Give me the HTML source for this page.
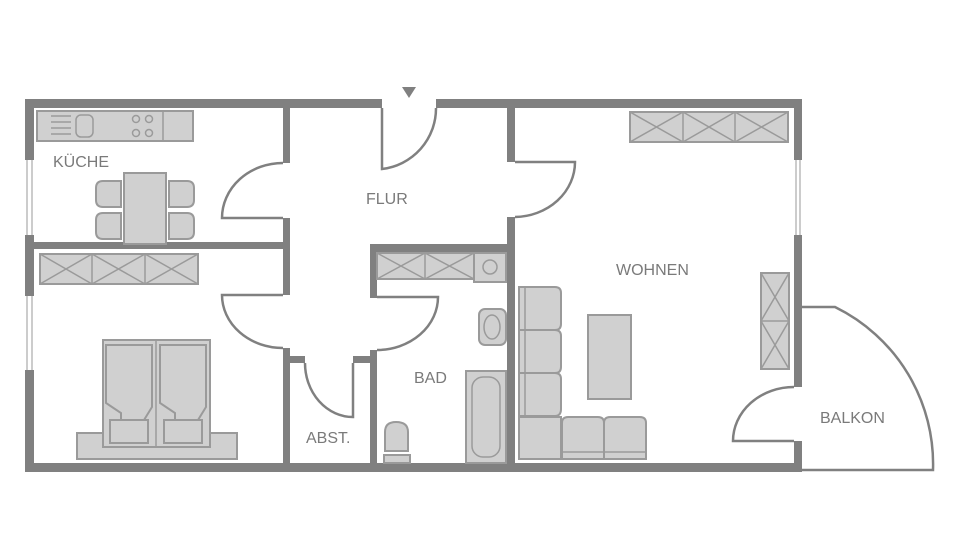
<!DOCTYPE html>
<html><head><meta charset="utf-8"><style>
html,body{margin:0;padding:0;background:#fff}
svg{display:block}
text{font-family:"Liberation Sans",sans-serif;font-size:16px;fill:#7a7a7a}
.f{fill:#d0d0d0;stroke:#9a9a9a;stroke-width:2}
.l{fill:none;stroke:#9a9a9a;stroke-width:1.5}
.d{fill:none;stroke:#808080;stroke-width:2.5}
.w{fill:#808080}
</style></head><body>
<svg width="960" height="560" viewBox="0 0 960 560">
<g class="w">
<rect x="25" y="99" width="357" height="9"/>
<rect x="436" y="99" width="366" height="9"/>
<rect x="25" y="99" width="9" height="61"/>
<rect x="25" y="235" width="9" height="61"/>
<rect x="25" y="370" width="9" height="102"/>
<rect x="25" y="463" width="777" height="9"/>
<rect x="794" y="99" width="8" height="61"/>
<rect x="794" y="235" width="8" height="152"/>
<rect x="794" y="441" width="8" height="31"/>
<rect x="25" y="242" width="265" height="7"/>
<rect x="283" y="99" width="7" height="64"/>
<rect x="283" y="218" width="7" height="77"/>
<rect x="283" y="348" width="7" height="124"/>
<rect x="283" y="356" width="22" height="7"/>
<rect x="353" y="356" width="24" height="7"/>
<rect x="370" y="244" width="145" height="8"/>
<rect x="370" y="244" width="7" height="54"/>
<rect x="370" y="350" width="7" height="122"/>
<rect x="507" y="99" width="8" height="63"/>
<rect x="507" y="217" width="8" height="255"/>
</g>
<g stroke="#999" stroke-width="1" fill="none">
<line x1="27" y1="160" x2="27" y2="235"/><line x1="32" y1="160" x2="32" y2="235"/>
<line x1="27" y1="296" x2="27" y2="370"/><line x1="32" y1="296" x2="32" y2="370"/>
<line x1="796" y1="160" x2="796" y2="235"/><line x1="800" y1="160" x2="800" y2="235"/>
</g>
<path class="d" d="M382 108 V169 A61 61 0 0 0 436 108"/>
<path class="d" d="M283 218 H222 A61 55 0 0 1 283 163"/>
<path class="d" d="M283 295 H222 A61 53 0 0 0 283 348"/>
<path class="d" d="M353 363 V417 A48 54 0 0 1 305 363"/>
<path class="d" d="M377 297 H438 A61 53 0 0 1 377 350"/>
<path class="d" d="M515 162 H575 A61 55 0 0 1 515 217"/>
<path class="d" d="M794 441 H733 A61 54 0 0 1 794 387"/>
<path class="d" d="M802 307 H835 A175 175 0 0 1 933 470 H802"/>
<polygon points="402,87 416,87 409,98" fill="#808080"/>
<rect class="f" x="37" y="111" width="156" height="30"/>
<line class="l" x1="163" y1="111" x2="163" y2="141"/>
<g class="l"><line x1="51" y1="116" x2="71" y2="116"/><line x1="51" y1="122" x2="71" y2="122"/><line x1="51" y1="128" x2="71" y2="128"/><line x1="51" y1="134" x2="71" y2="134"/>
<rect x="76" y="115" width="17" height="22" rx="5"/>
<circle cx="136" cy="119" r="3.5"/><circle cx="149" cy="119" r="3.5"/><circle cx="136" cy="133" r="3.5"/><circle cx="149" cy="133" r="3.5"/></g>
<rect class="f" x="124" y="173" width="42" height="71"/>
<path class="f" d="M121 181 H103 Q96 181 96 188 V200 Q96 207 103 207 H121 Z"/>
<path class="f" d="M121 213 H103 Q96 213 96 220 V232 Q96 239 103 239 H121 Z"/>
<path class="f" d="M169 181 H187 Q194 181 194 188 V200 Q194 207 187 207 H169 Z"/>
<path class="f" d="M169 213 H187 Q194 213 194 220 V232 Q194 239 187 239 H169 Z"/>
<rect class="f" x="40" y="254" width="158" height="30"/>
<g class="l"><line x1="92" y1="254" x2="92" y2="284"/><line x1="145" y1="254" x2="145" y2="284"/>
<path d="M40 254 L92 284 M92 254 L40 284 M92 254 L145 284 M145 254 L92 284 M145 254 L198 284 M198 254 L145 284"/></g>
<rect class="f" x="77" y="433" width="160" height="26"/>
<rect class="f" x="103" y="340" width="107" height="107"/>
<line class="l" x1="156" y1="340" x2="156" y2="447"/>
<path class="f" d="M106 345 H152 V407 L144 420 H121 V413 L112 407 L106 403 Z"/>
<rect class="f" x="110" y="420" width="38" height="23"/>
<path class="f" d="M160 345 H206 V407 L198 420 H175 V413 L166 407 L160 403 Z"/>
<rect class="f" x="164" y="420" width="38" height="23"/>
<rect class="f" x="377" y="253" width="97" height="26"/>
<g class="l"><line x1="425" y1="253" x2="425" y2="279"/><path d="M377 253 L425 279 M425 253 L377 279 M425 253 L474 279 M474 253 L425 279"/></g>
<rect class="f" x="474" y="253" width="32" height="29"/>
<circle class="l" cx="490" cy="267" r="7"/>
<rect class="f" x="479" y="309" width="27" height="36" rx="6"/>
<ellipse class="l" cx="492" cy="327" rx="8" ry="12"/>
<rect class="f" x="466" y="371" width="40" height="92"/>
<rect class="l" x="472" y="377" width="28" height="80" rx="11"/>
<path class="f" d="M385 451 V432 Q385 422 396 422 Q408 422 408 432 V451 Z"/>
<rect class="f" x="384" y="455" width="26" height="8"/>
<rect class="f" x="630" y="112" width="158" height="30"/>
<g class="l"><line x1="683" y1="112" x2="683" y2="142"/><line x1="735" y1="112" x2="735" y2="142"/>
<path d="M630 112 L683 142 M683 112 L630 142 M683 112 L735 142 M735 112 L683 142 M735 112 L788 142 M788 112 L735 142"/></g>
<rect class="f" x="761" y="273" width="28" height="96"/>
<g class="l"><line x1="761" y1="321" x2="789" y2="321"/><path d="M761 273 L789 321 M789 273 L761 321 M761 321 L789 369 M789 321 L761 369"/></g>
<rect class="f" x="588" y="315" width="43" height="84"/>
<path class="f" d="M519 287 H555 Q561 287 561 293 V324 Q561 330 555 330 H519 Z"/>
<path class="f" d="M519 330 H555 Q561 330 561 336 V367 Q561 373 555 373 H519 Z"/>
<path class="f" d="M519 373 H555 Q561 373 561 379 V409 Q561 416 555 416 H519 Z"/>
<line class="l" x1="525" y1="287" x2="525" y2="416"/>
<rect class="f" x="519" y="417" width="42" height="42"/>
<path class="f" d="M562 459 V423 Q562 417 568 417 H598 Q604 417 604 423 V459 Z"/>
<path class="f" d="M604 459 V423 Q604 417 610 417 H640 Q646 417 646 423 V459 Z"/>
<line class="l" x1="562" y1="452" x2="646" y2="452"/>
<text x="53" y="167">KÜCHE</text>
<text x="366" y="204">FLUR</text>
<text x="616" y="275">WOHNEN</text>
<text x="414" y="383">BAD</text>
<text x="306" y="443">ABST.</text>
<text x="820" y="423">BALKON</text>
</svg>
</body></html>
